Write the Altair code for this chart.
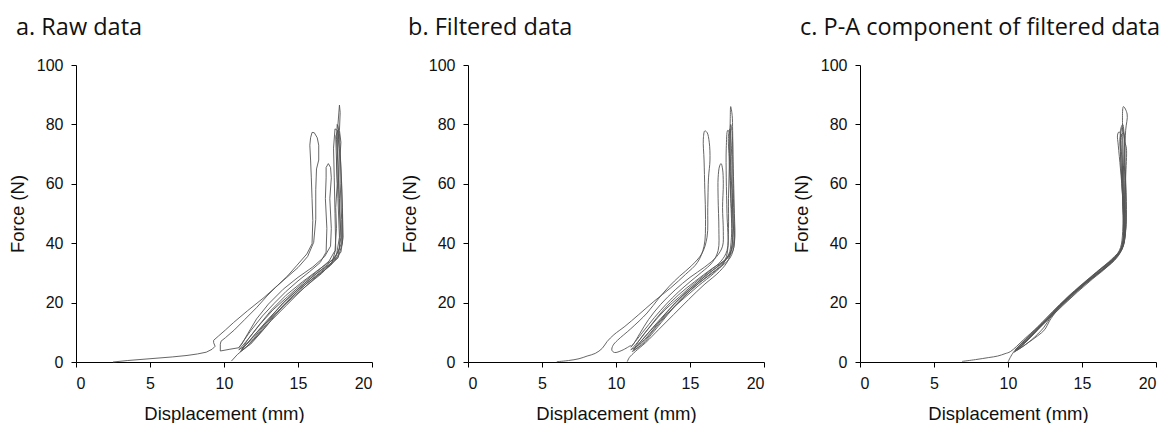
import altair as alt
import pandas as pd

TITLES = ["a. Raw data", "b. Filtered data", "c. P-A component of filtered data"]
X_TITLE = "Displacement (mm)"
Y_TITLE = "Force (N)"
X_TICKS = [0, 5, 10, 15, 20]
Y_TICKS = [0, 20, 40, 60, 80, 100]

# ---------------- a. Raw data ----------------
RAW_1_X = [2.5, 3.5, 5.0, 6.5, 7.5, 8.2, 8.8, 9.2, 9.4, 9.3, 9.3, 9.64, 10.1, 10.65, 11.6,
           12.7, 13.6, 14.3, 14.9, 15.6, 15.95, 16.0, 15.95, 15.9, 15.85, 15.8, 15.85, 15.95,
           16.1, 16.3, 16.4, 16.4, 16.25, 16.2, 16.2, 16.06, 15.65, 15.0, 14.2, 13.5, 12.9,
           12.2, 11.4, 10.7, 10.1, 9.8, 9.75, 9.75, 10.4, 11.0]
RAW_1_Y = [0.0, 0.5, 1.1, 1.7, 2.2, 2.7, 3.3, 4.3, 5.3, 6.5, 7.3, 8.8, 10.8, 13.3, 17.3,
           21.7, 25.7, 29.0, 32.4, 36.4, 39.8, 47.6, 55.0, 62.0, 68.0, 73.0, 75.5, 77.3,
           77.2, 75.5, 73.0, 68.0, 65.0, 58.0, 48.0, 40.3, 35.5, 31.8, 28.3, 25.2, 22.2,
           18.3, 14.3, 10.8, 8.2, 7.0, 6.0, 3.7, 4.3, 4.8]

RAW_2_X = [11.0, 11.8, 12.6, 13.4, 14.2, 15.0, 15.8, 16.5, 16.9, 16.95, 16.85, 16.9, 16.9,
           17.05, 17.2, 17.25, 17.15, 17.25, 17.2, 16.8, 16.0, 15.0, 14.0, 13.0, 12.2, 11.6,
           11.2, 11.0]
RAW_2_Y = [4.8, 10.5, 15.5, 19.8, 23.8, 27.3, 30.5, 33.5, 37.0, 45.0, 55.0, 62.0, 65.5,
           66.8, 65.5, 62.0, 55.0, 45.0, 39.0, 35.5, 32.0, 28.5, 24.5, 19.5, 14.5, 9.5,
           6.0, 4.8]

RAW_3_X = [11.0, 11.6, 12.4, 13.3, 14.3, 15.3, 16.3, 17.1, 17.5, 17.6, 17.55, 17.65, 17.6,
           17.75, 17.7, 17.8, 17.85, 17.8, 17.9, 17.85, 17.95, 18.0, 18.0, 17.7, 16.8, 15.6,
           14.5, 13.5, 12.6, 11.8, 11.2]
RAW_3_Y = [4.0, 7.5, 12.5, 17.5, 22.0, 26.5, 30.5, 34.0, 37.5, 45.0, 52.0, 60.0, 67.0,
           75.0, 80.0, 86.5, 84.0, 78.0, 74.0, 70.0, 60.0, 50.0, 40.0, 35.0, 31.0, 26.5,
           21.5, 16.0, 10.5, 6.0, 4.0]

RAW_4_X = [11.1, 11.7, 12.5, 13.6, 14.6, 15.6, 16.6, 17.3, 17.55, 17.5, 17.45, 17.4, 17.5,
           17.65, 17.7, 17.75, 17.85, 17.8, 17.2, 16.2, 15.1, 14.0, 13.0, 12.0, 11.4, 11.1]
RAW_4_Y = [3.5, 7.0, 11.5, 17.0, 21.5, 25.8, 29.8, 33.5, 38.0, 50.0, 62.0, 72.0, 78.5,
           78.0, 70.0, 58.0, 45.0, 38.0, 33.0, 29.0, 24.5, 19.0, 13.5, 7.5, 4.5, 3.5]

RAW_5_X = [10.5, 10.9, 11.5, 12.3, 13.2, 14.2, 15.2, 16.2, 17.2, 17.7, 17.9, 17.8, 17.7,
           17.6, 17.65, 17.8, 17.9, 18.0, 18.05, 17.9, 17.3, 16.3, 15.2, 14.0, 12.9, 12.0,
           11.3, 11.0]
RAW_5_Y = [0.3, 2.5, 5.0, 9.0, 14.0, 19.0, 24.0, 28.5, 32.5, 35.5, 42.0, 55.0, 66.0,
           75.0, 80.0, 77.0, 65.0, 52.0, 42.0, 37.0, 33.5, 30.0, 25.5, 20.0, 13.5, 8.0,
           5.0, 4.2]

RAW_6_X = [11.2, 12.0, 13.0, 14.0, 15.0, 16.0, 17.0, 17.6, 17.8, 17.7, 17.6, 17.55, 17.7,
           17.8, 17.85, 17.95, 17.95, 17.5, 16.5, 15.3, 14.2, 13.2, 12.3, 11.6, 11.2]
RAW_6_Y = [4.2, 8.8, 14.5, 19.8, 24.5, 28.8, 32.8, 36.0, 42.0, 55.0, 68.0, 76.0, 78.0,
           72.0, 60.0, 48.0, 40.0, 35.0, 31.5, 27.0, 22.5, 17.5, 12.0, 7.5, 4.2]

# ---------------- b. Filtered data ----------------
FILT_1_X = [6.0, 6.8, 7.5, 8.05, 8.6, 9.07, 9.4, 9.86, 10.6, 11.5, 12.56, 13.7, 14.7, 15.5,
            15.95, 16.05, 16.0, 15.95, 15.9, 16.0, 16.15, 16.3, 16.35, 16.25, 16.2, 16.15,
            15.8, 15.1, 14.3, 13.6, 12.9, 12.1, 11.0, 10.1, 9.8, 9.72, 9.9, 10.4, 11.0]
FILT_1_Y = [0.1, 0.5, 1.1, 2.0, 2.9, 4.6, 6.9, 9.2, 12.0, 15.8, 20.4, 25.0, 29.5, 33.5,
            39.0, 48.0, 58.0, 68.0, 75.0, 77.8, 77.3, 74.0, 68.0, 62.0, 52.0, 42.0,
            36.5, 32.4, 28.9, 25.5, 21.5, 16.5, 11.2, 7.3, 5.6, 4.0, 3.2, 3.9, 5.6]

FILT_2_X = [11.0, 11.8, 12.6, 13.4, 14.2, 15.0, 15.8, 16.5, 16.9, 16.95, 16.9, 16.9, 17.0,
            17.1, 17.2, 17.25, 17.2, 17.25, 17.2, 16.8, 16.0, 15.0, 14.0, 13.0, 12.2, 11.6,
            11.2, 11.0]
FILT_2_Y = [5.0, 10.0, 15.0, 19.5, 23.5, 27.0, 30.3, 33.5, 37.5, 45.0, 55.0, 62.0, 66.0,
            66.8, 65.0, 60.0, 52.0, 44.0, 39.0, 35.5, 32.0, 28.5, 24.3, 19.3, 14.3, 9.5,
            6.2, 5.0]

FILT_3_X = [11.0, 11.6, 12.4, 13.3, 14.3, 15.3, 16.3, 17.1, 17.5, 17.6, 17.6, 17.65, 17.7,
            17.72, 17.75, 17.85, 17.88, 17.9, 17.95, 18.0, 18.0, 17.7, 16.8, 15.6, 14.5,
            13.5, 12.6, 11.8, 11.2]
FILT_3_Y = [4.0, 7.5, 12.5, 17.5, 22.0, 26.5, 30.5, 34.0, 37.5, 45.0, 55.0, 65.0, 75.0,
            82.0, 86.0, 83.0, 78.0, 70.0, 60.0, 50.0, 40.0, 35.0, 31.0, 26.5, 21.5,
            16.0, 10.5, 6.0, 4.0]

FILT_4_X = [11.1, 11.7, 12.5, 13.6, 14.6, 15.6, 16.6, 17.3, 17.55, 17.5, 17.45, 17.45,
            17.55, 17.65, 17.7, 17.75, 17.85, 17.8, 17.2, 16.2, 15.1, 14.0, 13.0, 12.0,
            11.4, 11.1]
FILT_4_Y = [3.5, 7.0, 11.5, 17.0, 21.5, 25.8, 29.8, 33.5, 38.0, 50.0, 62.0, 72.0,
            78.0, 77.5, 70.0, 58.0, 45.0, 38.0, 33.0, 29.0, 24.5, 19.0, 13.5, 7.5,
            4.5, 3.5]

FILT_5_X = [10.76, 10.9, 11.3, 12.0, 12.9, 13.9, 14.9, 15.95, 17.0, 17.6, 17.9, 17.85,
            17.75, 17.7, 17.75, 17.85, 17.9, 17.95, 18.0, 17.9, 17.3, 16.3, 15.2, 14.0,
            13.0, 12.1, 11.4, 11.0]
FILT_5_Y = [0.1, 1.5, 3.5, 6.5, 11.0, 16.0, 21.0, 26.0, 30.5, 34.5, 42.0, 55.0,
            66.0, 75.0, 80.0, 77.0, 65.0, 52.0, 42.0, 37.5, 33.8, 30.0, 25.5, 20.0,
            14.0, 8.5, 5.2, 4.2]

FILT_6_X = [11.2, 12.0, 13.0, 14.0, 15.0, 16.0, 17.0, 17.6, 17.8, 17.75, 17.65, 17.6,
            17.7, 17.8, 17.85, 17.9, 17.95, 17.5, 16.5, 15.3, 14.2, 13.2, 12.3, 11.6, 11.2]
FILT_6_Y = [4.2, 8.8, 14.5, 19.8, 24.5, 28.8, 32.8, 36.0, 42.0, 55.0, 68.0, 76.0,
            78.5, 72.0, 60.0, 48.0, 40.0, 35.0, 31.5, 27.0, 22.5, 17.5, 12.0, 7.5, 4.2]

# ---------------- c. P-A component ----------------
PA_1_X = [6.9, 7.8, 8.7, 9.3, 9.8, 10.16, 11.05, 12.0, 12.6, 13.5, 14.5, 15.5, 16.5, 17.2,
          17.6, 17.75, 17.75, 17.6, 17.45, 17.4, 17.5, 17.65, 17.7, 17.75, 17.8, 17.85,
          17.6, 16.9, 15.9, 14.8, 13.8, 12.9, 12.4, 11.6, 10.8, 10.4]
PA_1_Y = [0.2, 0.8, 1.5, 2.0, 2.8, 3.5, 7.5, 11.8, 14.8, 19.3, 23.6, 27.7, 31.6, 35.0,
          38.5, 44.0, 55.0, 65.0, 73.0, 76.4, 77.5, 76.5, 72.0, 62.0, 50.0, 42.0,
          37.0, 33.5, 29.2, 25.0, 20.5, 15.2, 11.5, 7.5, 4.5, 3.4]

PA_2_X = [10.4, 11.2, 12.1, 13.0, 14.0, 15.0, 16.0, 17.0, 17.6, 17.85, 17.85, 17.8, 17.75,
          17.8, 18.05, 17.95, 17.9, 17.95, 17.95, 17.75, 17.2, 16.2, 15.2, 14.2, 13.2,
          12.3, 11.4, 10.6]
PA_2_Y = [3.2, 7.0, 11.8, 16.2, 21.2, 25.6, 29.6, 33.6, 37.5, 43.0, 55.0, 66.0, 76.0,
          86.0, 83.5, 78.0, 70.0, 58.0, 45.0, 38.5, 35.0, 31.0, 26.8, 22.5, 17.6,
          12.6, 7.8, 4.2]

PA_3_X = [10.0, 10.15, 10.4, 11.2, 12.0, 12.8, 13.8, 14.8, 15.8, 16.8, 17.5, 17.8, 17.75,
          17.65, 17.6, 17.7, 17.85, 17.9, 18.0, 17.95, 17.7, 17.0, 16.0, 15.0, 14.0, 13.0,
          12.2, 11.3, 10.5]
PA_3_Y = [0.0, 1.5, 3.5, 7.6, 11.5, 15.2, 20.0, 24.6, 28.7, 33.0, 36.8, 42.0, 54.0,
          66.0, 75.0, 79.0, 76.0, 66.0, 54.0, 44.0, 38.0, 34.2, 30.2, 26.0, 21.4, 16.4,
          12.0, 7.2, 3.8]

PA_4_X = [10.5, 11.3, 12.0, 12.5, 12.8, 13.3, 14.3, 15.3, 16.3, 17.2, 17.7, 17.9, 17.8,
          17.7, 17.6, 17.75, 17.9, 18.0, 17.95, 17.9, 17.85, 17.5, 16.6, 15.6, 14.6, 13.6,
          12.7, 11.8, 11.0, 10.5]
PA_4_Y = [3.6, 6.3, 8.8, 11.0, 13.8, 17.2, 22.0, 26.6, 30.6, 34.2, 38.0, 44.0, 56.0,
          68.0, 78.0, 80.0, 74.0, 72.0, 62.0, 50.0, 41.0, 36.5, 32.5, 28.2, 24.0, 19.3,
          14.6, 10.2, 6.6, 3.8]

PA_5_X = [10.6, 11.5, 12.5, 13.5, 14.5, 15.5, 16.5, 17.3, 17.7, 17.8, 17.7, 17.6, 17.6,
          17.8, 17.85, 17.85, 17.9, 17.8, 17.3, 16.3, 15.3, 14.3, 13.3, 12.4, 11.5, 10.7]
PA_5_Y = [4.0, 8.4, 13.4, 18.6, 23.2, 27.4, 31.4, 35.2, 39.0, 48.0, 60.0, 70.0, 76.0,
          77.0, 70.0, 58.0, 46.0, 39.5, 35.8, 31.5, 27.2, 22.8, 17.8, 13.0, 8.2, 4.3]

PA_6_X = [10.5, 11.6, 12.7, 13.7, 14.7, 15.7, 16.7, 17.4, 17.75, 17.8, 17.75, 17.8, 17.9,
          17.9, 17.95, 17.7, 17.0, 16.0, 15.0, 14.0, 13.0, 12.1, 11.2, 10.5]
PA_6_Y = [4.2, 9.0, 14.2, 19.0, 23.6, 27.9, 32.0, 35.8, 40.0, 50.0, 60.0, 66.0, 64.0,
          55.0, 45.0, 38.6, 34.6, 30.4, 26.2, 21.8, 16.8, 12.2, 7.8, 4.2]

RAW = [(RAW_1_X, RAW_1_Y), (RAW_2_X, RAW_2_Y), (RAW_3_X, RAW_3_Y),
       (RAW_4_X, RAW_4_Y), (RAW_5_X, RAW_5_Y), (RAW_6_X, RAW_6_Y)]
FILT = [(FILT_1_X, FILT_1_Y), (FILT_2_X, FILT_2_Y), (FILT_3_X, FILT_3_Y),
        (FILT_4_X, FILT_4_Y), (FILT_5_X, FILT_5_Y), (FILT_6_X, FILT_6_Y)]
PA = [(PA_1_X, PA_1_Y), (PA_2_X, PA_2_Y), (PA_3_X, PA_3_Y),
      (PA_4_X, PA_4_Y), (PA_5_X, PA_5_Y), (PA_6_X, PA_6_Y)]


def build(curves):
    rows = []
    for k, (xs, ys) in enumerate(curves):
        for i, (x, y) in enumerate(zip(xs, ys)):
            rows.append({"curve": k, "i": i, "x": x, "y": y})
    return pd.DataFrame(rows)


AX = dict(labelFont="Liberation Sans", labelFontSize=16, labelColor="#111111",
          titleFont="Liberation Sans", titleFontSize=18.5, titleFontWeight="normal",
          titleColor="#111111", domainColor="#000000", tickColor="#000000",
          tickSize=5, grid=False)


def panel(curves, title, interp):
    df = build(curves)
    return alt.Chart(
        df,
        title=alt.Title(title, anchor="start", frame="group", dx=-60, offset=18,
                        font="Open Sans", fontSize=23.5, fontWeight="normal", color="#111111"),
    ).mark_line(color="#555555", strokeWidth=0.9, interpolate=interp).encode(
        x=alt.X("x:Q", scale=alt.Scale(domain=[0, 20], nice=False, zero=False),
                axis=alt.Axis(values=X_TICKS, title=X_TITLE, labelPadding=8,
                              titlePadding=13, **AX)),
        y=alt.Y("y:Q", scale=alt.Scale(domain=[0, 100], nice=False),
                axis=alt.Axis(values=Y_TICKS, title=Y_TITLE, labelPadding=8,
                              titlePadding=9, **AX)),
        detail="curve:N",
        order="i:Q",
    ).properties(width=296, height=297)


a = panel(RAW, TITLES[0], "linear")
b = panel(FILT, TITLES[1], "catmull-rom")
c = panel(PA, TITLES[2], "catmull-rom")

chart = alt.hconcat(a, b, c, spacing=96, bounds="flush").configure_view(
    stroke=None
).properties(
    padding={"left": 0, "top": 7, "right": 0, "bottom": 0}
)

chart.save("out.html", embed_options={"renderer": "svg", "actions": False})
